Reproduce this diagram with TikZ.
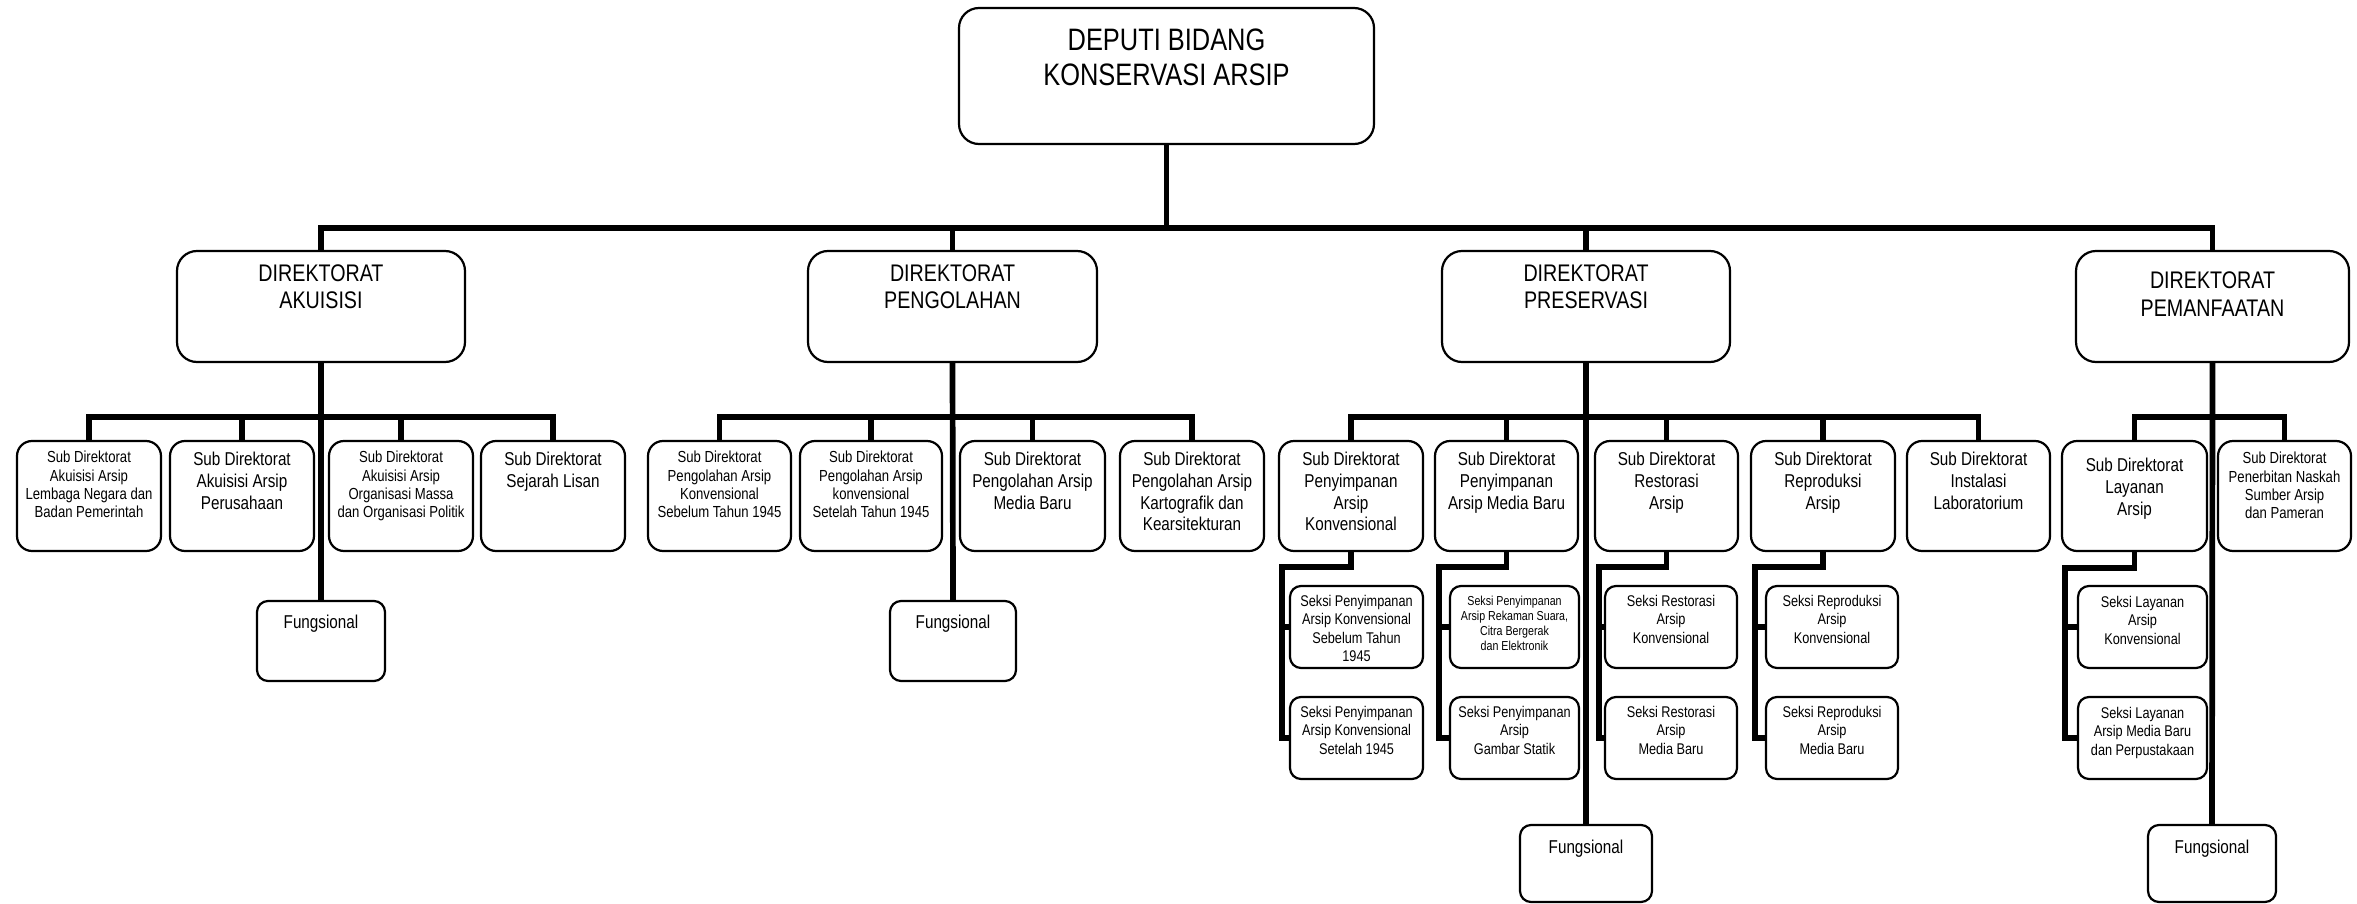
\documentclass[tikz,border=0pt]{standalone}
\usepackage{fontspec}
\setmainfont{Liberation Sans}[FakeStretch=0.82]
\pgfdeclarelayer{background}
\pgfsetlayers{background,main}
\newcommand\orgbox[9]{%
  \node[orgframe,#6,anchor=north west,minimum width={(#4-#2)*1pt},minimum height={(#5-#3)*1pt}] (#1) at (#2,#3) {};
  \node[lbl,#7] (#1-t) at ([yshift=-#8pt]#1.north) {#9};
}
\begin{document}
\begin{tikzpicture}[x=1pt,y=-1pt,
  orgframe/.style={draw,line width=2.2pt,fill=white,inner sep=0pt,outer sep=0pt},
  rbig/.style={rounded corners=20pt},
  rsub/.style={rounded corners=15pt},
  rsek/.style={rounded corners=11pt},
  conn/.style={line width=5.7pt,line cap=rect},
  lbl/.style={anchor=north,inner sep=0pt,align=center},
  ftop/.style={font=\fontsize{31}{35}\selectfont},
  fdir/.style={font=\fontsize{24}{27.5}\selectfont},
  fbig/.style={font=\fontsize{18.6}{21.7}\selectfont},
  fsmall/.style={font=\fontsize{16}{18.3}\selectfont},
  fsek/.style={font=\fontsize{15.5}{18.4}\selectfont},
  ftiny/.style={font=\fontsize{13}{15}\selectfont}]
\useasboundingbox (0,0) rectangle (2357,904);

% top
\orgbox{dep}{959}{8}{1374}{144}{rbig}{ftop}{21}{DEPUTI BIDANG\\KONSERVASI ARSIP}
% directorates
\orgbox{akui}{177}{251}{465}{362}{rbig}{fdir}{13.5}{DIREKTORAT\\AKUISISI}
\orgbox{peng}{808}{251}{1097}{362}{rbig}{fdir}{13.5}{DIREKTORAT\\PENGOLAHAN}
\orgbox{pres}{1442}{251}{1730}{362}{rbig}{fdir}{13.5}{DIREKTORAT\\PRESERVASI}
\orgbox{pem}{2076}{251}{2349}{362}{rbig}{fdir}{21}{DIREKTORAT\\PEMANFAATAN}

% akuisisi
\orgbox{a1}{17}{441}{161}{551}{rsub}{fsmall}{10}{Sub Direktorat\\Akuisisi Arsip\\Lembaga Negara dan\\Badan Pemerintah}
\orgbox{a2}{170}{441}{314}{551}{rsub}{fbig}{11}{Sub Direktorat\\Akuisisi Arsip\\Perusahaan}
\orgbox{a3}{329}{441}{473}{551}{rsub}{fsmall}{10}{Sub Direktorat\\Akuisisi Arsip\\Organisasi Massa\\dan Organisasi Politik}
\orgbox{a4}{481}{441}{625}{551}{rsub}{fbig}{11}{Sub Direktorat\\Sejarah Lisan}
\orgbox{fa}{257}{601}{385}{681}{rsek}{fbig}{14}{Fungsional}

% pengolahan
\orgbox{p1}{648}{441}{791}{551}{rsub}{fsmall}{10}{Sub Direktorat\\Pengolahan Arsip\\Konvensional\\Sebelum Tahun 1945}
\orgbox{p2}{800}{441}{942}{551}{rsub}{fsmall}{10}{Sub Direktorat\\Pengolahan Arsip\\konvensional\\Setelah Tahun 1945}
\orgbox{p3}{960}{441}{1105}{551}{rsub}{fbig}{11}{Sub Direktorat\\Pengolahan Arsip\\Media Baru}
\orgbox{p4}{1120}{441}{1264}{551}{rsub}{fbig}{11}{Sub Direktorat\\Pengolahan Arsip\\Kartografik dan\\Kearsitekturan}
\orgbox{fp}{890}{601}{1016}{681}{rsek}{fbig}{14}{Fungsional}

% preservasi
\orgbox{s1}{1279}{441}{1423}{551}{rsub}{fbig}{11}{Sub Direktorat\\Penyimpanan\\Arsip\\Konvensional}
\orgbox{s2}{1435}{441}{1578}{551}{rsub}{fbig}{11}{Sub Direktorat\\Penyimpanan\\Arsip Media Baru}
\orgbox{s3}{1595}{441}{1738}{551}{rsub}{fbig}{11}{Sub Direktorat\\Restorasi\\Arsip}
\orgbox{s4}{1751}{441}{1895}{551}{rsub}{fbig}{11}{Sub Direktorat\\Reproduksi\\Arsip}
\orgbox{s5}{1907}{441}{2050}{551}{rsub}{fbig}{11}{Sub Direktorat\\Instalasi\\Laboratorium}
\orgbox{fs}{1520}{825}{1652}{902}{rsek}{fbig}{15}{Fungsional}

\orgbox{s1a}{1290}{586}{1423}{668}{rsek}{fsek}{9}{Seksi Penyimpanan\\Arsip Konvensional\\Sebelum Tahun\\1945}
\orgbox{s1b}{1290}{697}{1423}{779}{rsek}{fsek}{9}{Seksi Penyimpanan\\Arsip Konvensional\\Setelah 1945}
\orgbox{s2a}{1450}{586}{1579}{668}{rsek}{ftiny}{10}{Seksi Penyimpanan\\Arsip Rekaman Suara,\\Citra Bergerak\\dan Elektronik}
\orgbox{s2b}{1450}{697}{1579}{779}{rsek}{fsek}{9}{Seksi Penyimpanan\\Arsip\\Gambar Statik}
\orgbox{s3a}{1605}{586}{1737}{668}{rsek}{fsek}{9}{Seksi Restorasi\\Arsip\\Konvensional}
\orgbox{s3b}{1605}{697}{1737}{779}{rsek}{fsek}{9}{Seksi Restorasi\\Arsip\\Media Baru}
\orgbox{s4a}{1766}{586}{1898}{668}{rsek}{fsek}{9}{Seksi Reproduksi\\Arsip\\Konvensional}
\orgbox{s4b}{1766}{697}{1898}{779}{rsek}{fsek}{9}{Seksi Reproduksi\\Arsip\\Media Baru}

% pemanfaatan
\orgbox{m1}{2062}{441}{2207}{551}{rsub}{fbig}{17}{Sub Direktorat\\Layanan\\Arsip}
\orgbox{m2}{2218}{441}{2351}{551}{rsub}{fsmall}{11}{Sub Direktorat\\Penerbitan Naskah\\Sumber Arsip\\dan Pameran}
\orgbox{m1a}{2078}{586}{2207}{668}{rsek}{fsek}{10}{Seksi Layanan\\Arsip\\Konvensional}
\orgbox{m1b}{2078}{697}{2207}{779}{rsek}{fsek}{10}{Seksi Layanan\\Arsip Media Baru\\dan Perpustakaan}
\orgbox{fm}{2148}{825}{2276}{902}{rsek}{fbig}{15}{Fungsional}

\begin{pgfonlayer}{background}
  \coordinate (bus) at (0,228);
  \coordinate (sub) at (0,417);
  \draw[conn] (dep.south) -- (dep.south |- bus);
  \draw[conn] (akui.north) |- (pem.north |- bus) -- (pem.north);
  \draw[conn] (peng.north) -- (peng.north |- bus);
  \draw[conn] (pres.north) -- (pres.north |- bus);
  % akuisisi
  \draw[conn] (a1.north) |- (a4.north |- sub) -- (a4.north);
  \draw[conn] (a2.north) -- (a2.north |- sub);
  \draw[conn] (a3.north) -- (a3.north |- sub);
  \draw[conn] (akui.south) -- (fa.north);
  % pengolahan
  \draw[conn] (p1.north) |- (p4.north |- sub) -- (p4.north);
  \draw[conn] (p2.north) -- (p2.north |- sub);
  \draw[conn] (p3.north) -- (p3.north |- sub);
  \draw[conn] (peng.south) -- (fp.north);
  % preservasi
  \draw[conn] (s1.north) |- (s5.north |- sub) -- (s5.north);
  \draw[conn] (s2.north) -- (s2.north |- sub);
  \draw[conn] (s3.north) -- (s3.north |- sub);
  \draw[conn] (s4.north) -- (s4.north |- sub);
  \draw[conn] (pres.south) -- (fs.north);
  % pemanfaatan
  \draw[conn] (m1.north) |- (m2.north |- sub) -- (m2.north);
  \draw[conn] (pem.south) -- (fm.north);
  % seksi connectors
  \coordinate (e1) at (1282,567);
  \coordinate (e2) at (1439,567);
  \coordinate (e3) at (1599,567);
  \coordinate (e4) at (1755,567);
  \coordinate (e5) at (2065,568);
  \draw[conn] (s1.south) |- (e1) |- (s1b.west);
  \draw[conn] (e1 |- s1a.west) -- (s1a.west);
  \draw[conn] (s2.south) |- (e2) |- (s2b.west);
  \draw[conn] (e2 |- s2a.west) -- (s2a.west);
  \draw[conn] (s3.south) |- (e3) |- (s3b.west);
  \draw[conn] (e3 |- s3a.west) -- (s3a.west);
  \draw[conn] (s4.south) |- (e4) |- (s4b.west);
  \draw[conn] (e4 |- s4a.west) -- (s4a.west);
  \draw[conn] (m1.south) |- (e5) |- (m1b.west);
  \draw[conn] (e5 |- m1a.west) -- (m1a.west);
\end{pgfonlayer}
\end{tikzpicture}
\end{document}
